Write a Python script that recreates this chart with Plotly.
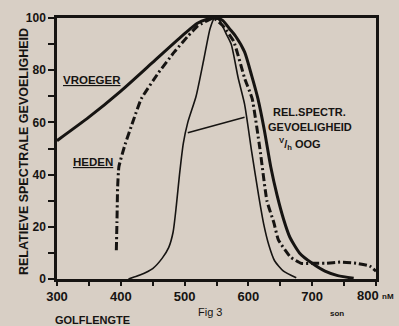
import plotly.graph_objects as go

# ---- data ----
vroeger_nm = [300, 350, 400, 450, 500, 520, 535, 550, 560, 570, 580, 594, 605, 615, 625, 635, 645, 655, 665, 680, 700, 720, 740, 765]
vroeger_val = [53, 62, 72, 83, 94, 98, 99.5, 100, 99, 96, 93, 87, 78, 69, 57, 43, 32, 23, 16, 10, 6, 3, 1.3, 0.3]

heden_nm = [393, 394, 395, 397, 406, 420, 432, 459, 484, 505, 521, 545, 560, 577, 594, 606, 618, 629, 640, 647, 666, 683, 698, 720, 745, 770, 790, 800]
heden_val = [11, 22, 35, 43, 51, 61, 69, 79, 87, 93, 97, 100, 97, 91, 77, 69, 50, 30, 21.5, 15, 8.4, 6, 6, 6, 6.5, 6, 5, 3]

oog_nm = [412, 430, 450, 465, 475, 482, 487, 492, 498, 505, 518, 530, 540, 547, 555, 565, 573, 584, 594, 605, 616, 624, 632, 641, 655, 675]
oog_val = [0, 1.5, 4, 8, 12, 18, 28, 40, 52, 60, 70, 84, 96, 100, 99, 94, 90, 77, 67, 49, 32, 21, 13, 7, 3, 0.5]

x_ticks = [300, 350, 400, 450, 500, 550, 600, 650, 700, 750, 800]
x_ticktext = ["300", "", "400", "", "500", "", "600", "", "700", "", "800"]
y_ticks = [0, 10, 20, 30, 40, 50, 60, 70, 80, 90, 100]
y_ticktext = ["0", "", "20", "", "40", "", "60", "", "80", "", "100"]

leader_nm = [505, 594]
leader_val = [56, 62]

INK = "#161412"
BG = "#d8cfc5"
FONT = "Liberation Sans, Arial, sans-serif"

fig = go.Figure()
fig.add_trace(go.Scatter(x=oog_nm, y=oog_val, mode="lines",
                         line=dict(color=INK, width=1.6, shape="spline", smoothing=0.6)))
fig.add_trace(go.Scatter(x=heden_nm, y=heden_val, mode="lines",
                         line=dict(color=INK, width=3, dash="8px,3px,2px,3px", shape="spline", smoothing=0.4)))
fig.add_trace(go.Scatter(x=vroeger_nm, y=vroeger_val, mode="lines",
                         line=dict(color=INK, width=3, shape="spline", smoothing=0.6)))
fig.add_trace(go.Scatter(x=leader_nm, y=leader_val, mode="lines",
                         line=dict(color=INK, width=1.5)))

fig.update_layout(
    width=399, height=326,
    margin=dict(l=57, r=23, t=18, b=47),
    paper_bgcolor=BG, plot_bgcolor=BG,
    showlegend=False,
    font=dict(family=FONT, color=INK),
)
# the last tick label ("800") is drawn as an annotation, shifted left as in the original
axis_ticktext = x_ticktext[:-1] + [""]
fig.update_xaxes(range=[300, 800], tickvals=x_ticks, ticktext=axis_ticktext,
                 showgrid=False, zeroline=False, showline=True, linewidth=2.5, linecolor=INK,
                 mirror=True, ticks="outside", ticklen=4, tickwidth=2, tickcolor=INK,
                 tickfont=dict(size=13, family=FONT, color=INK, weight="bold"))
fig.update_yaxes(range=[0, 100], tickvals=y_ticks, ticktext=y_ticktext,
                 showgrid=False, zeroline=False, showline=True, linewidth=2.5, linecolor=INK,
                 mirror=True, ticks="outside", ticklen=6, tickwidth=2, tickcolor=INK,
                 tickfont=dict(size=12, family=FONT, color=INK, weight="bold"))

bold = dict(family=FONT, color=INK, weight="bold")
annots = [
    dict(text="<u>VROEGER</u>", px=92, py=80, size=11.5),
    dict(text="<u>HEDEN</u>", px=93, py=162, size=11.5),
    dict(text="REL.SPECTR.", px=309, py=112, size=11),
    dict(text="GEVOELIGHEID", px=310, py=127, size=11),
    dict(text="<sup>V</sup>/<sub>h</sub> OOG", px=300, py=144, size=11),
    dict(text="GOLFLENGTE", px=92, py=320, size=11),
    dict(text=x_ticktext[-1], px=368, py=295, size=13),
    dict(text="nM", px=388, py=296, size=8),
    dict(text="son", px=337, py=313, size=8),
]
L, R, T, B = 57, 376, 18, 279
for a in annots:
    fig.add_annotation(text=a["text"], x=(a["px"] - L) / (R - L), y=(B - a["py"]) / (B - T),
                       xref="paper", yref="paper", showarrow=False,
                       xanchor="center", yanchor="middle",
                       font=dict(size=a["size"], **bold))
fig.add_annotation(text="Fig 3", x=(210 - L) / (R - L), y=(B - 320) / (B - T),
                   xref="paper", yref="paper", showarrow=False,
                   font=dict(size=11, family=FONT, color=INK))
fig.add_annotation(text="RELATIEVE SPECTRALE GEVOELIGHEID", x=(15 - L) / (R - L), y=(B - 152) / (B - T),
                   xref="paper", yref="paper", showarrow=False, textangle=-90,
                   font=dict(size=12.5, **bold))

fig.write_html("out.html", config={"displayModeBar": False},
               post_script="document.body.style.margin='0';document.body.style.padding='0';"
                           "document.documentElement.style.overflow='hidden';")
